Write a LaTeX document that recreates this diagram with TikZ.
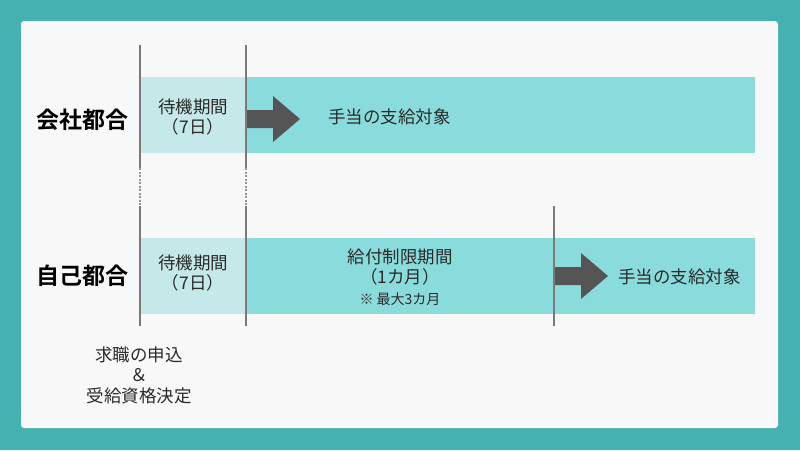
\documentclass[tikz,border=0pt]{standalone}
\usepackage{fontspec}
\newfontfamily\cjk{Noto Sans CJK JP}[BoldFont=Noto Sans CJK JP Bold]
\definecolor{bgteal}{HTML}{45B1B1}
\definecolor{panel}{HTML}{F8F8F8}
\definecolor{lightband}{HTML}{C5E8E8}
\definecolor{darkband}{HTML}{8ADCDC}
\definecolor{linegray}{HTML}{7A7A7A}
\definecolor{arrowgray}{HTML}{555555}
\definecolor{txt}{HTML}{2A2A2A}
\begin{document}
\begin{tikzpicture}[x=1pt,y=-1pt,
  lbl/.style={font=\cjk\fontsize{17.5}{20.5}\selectfont, text=txt, inner sep=0pt, align=center},
  small/.style={font=\cjk\fontsize{14}{16}\selectfont, text=txt, inner sep=0pt},
  title/.style={font=\cjk\bfseries\fontsize{23}{26}\selectfont, text=black, inner sep=0pt},
  vline/.style={draw=linegray, line width=2pt},
  dline/.style={draw=linegray!80, line width=2pt, dash pattern=on 2pt off 1.5pt},
  bigarrow/.style={fill=arrowgray}]
\useasboundingbox (0,0) rectangle (800,450);
\fill[bgteal] (0,0) rectangle (800,450);
\fill[panel, rounded corners=3pt] (21,21) rectangle (778,428);
% bands
\fill[lightband] (140,77) rectangle (245,153);
\fill[darkband] (245,77) rectangle (755,153);
\fill[lightband] (140,238) rectangle (245,314);
\fill[darkband] (245,238) rectangle (755,314);
% arrows
\fill[bigarrow] (246,110) -- (273,110) -- (273,96) -- (300,119) -- (273,142) -- (273,128) -- (246,128) -- cycle;
\fill[bigarrow] (554,267) -- (581,267) -- (581,253) -- (608,276) -- (581,299) -- (581,285) -- (554,285) -- cycle;
% vertical lines
\coordinate (a1) at (139.5,45);
\coordinate (a2) at (139.5,168);
\coordinate (a3) at (139.5,206);
\coordinate (a4) at (139.5,326);
\coordinate (b1) at (245.5,45);
\coordinate (b2) at (245.5,168);
\coordinate (b3) at (245.5,206);
\coordinate (b4) at (245.5,326);
\coordinate (c1) at (553.5,206);
\coordinate (c2) at (553.5,326);
\draw[vline] (a1) -- (a2);
\draw[dline] (a2) -- (a3);
\draw[vline] (a3) -- (a4);
\draw[vline] (b1) -- (b2);
\draw[dline] (b2) -- (b3);
\draw[vline] (b3) -- (b4);
\draw[vline] (c1) -- (c2);
% texts
\node[title] (t1) at (82,120) {会社都合};
\node[title] (t2) at (82,276) {自己都合};
\node[lbl] (w1) at (193,117) {待機期間\\（7日）};
\node[lbl] (w2) at (193,273) {待機期間\\（7日）};
\node[lbl, anchor=west] (s1) at (328,117) {手当の支給対象};
\node[lbl, anchor=west] (s2) at (618,277) {手当の支給対象};
\node[lbl] (r1) at (400,267) {給付制限期間\\（1カ月）};
\node[small] (r2) at (400,299) {※ 最大3カ月};
\node[lbl] (bot) at (139,375) {求職の申込\\＆\\受給資格決定};
\end{tikzpicture}
\end{document}
